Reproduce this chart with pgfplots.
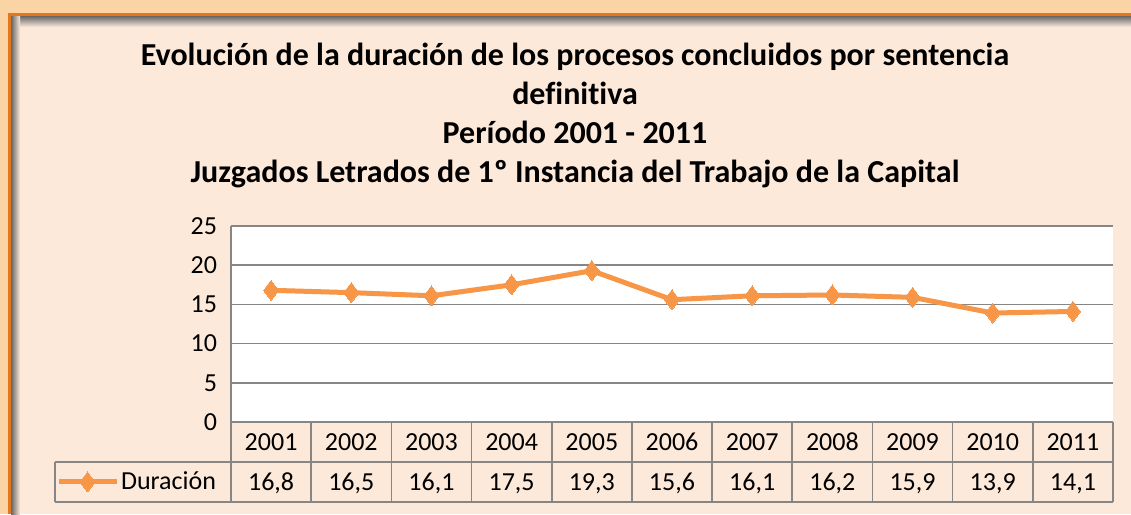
\documentclass[border=0pt]{standalone}
\usepackage{pgfplots}
\pgfplotsset{compat=1.18}
\usepackage{fontspec}
\setmainfont{Carlito}[Ligatures={NoCommon}]

\definecolor{peach}{RGB}{253,233,217}
\definecolor{band}{RGB}{251,212,166}
\definecolor{frameorange}{RGB}{228,118,30}
\definecolor{lineorange}{RGB}{247,150,70}
\definecolor{gridgray}{RGB}{134,134,134}

\begin{document}
\begin{tikzpicture}[x=0.75pt,y=-0.75pt]
% frame and background
\fill[band] (0,0) rectangle (1131,514);
\fill[frameorange] (8,13) rectangle (1131,514);
\fill[peach] (11,16) rectangle (1131,514);
\shade[top color=black!60, bottom color=peach] (11,16) rectangle (1131,27);
\shade[left color=black!60, right color=peach] (11,16) rectangle (20,514);

% title
\tikzset{ttl/.style={font=\fontsize{24}{28}\selectfont\bfseries, anchor=base}}
\node[ttl] at (575,65) {Evolución de la duración de los procesos concluidos por sentencia};
\node[ttl] at (575,104) {definitiva};
\node[ttl] at (575,143) {Período 2001 - 2011};
\node[ttl] at (575,182) {Juzgados Letrados de 1º Instancia del Trabajo de la Capital};

% data table grid
\draw[gridgray, line width=1.2pt] (231,422) -- (1113,422);
\draw[gridgray, line width=1.2pt] (55,462) -- (1113,462);
\draw[gridgray, line width=1.2pt] (55,502) -- (1113,502);
\draw[gridgray, line width=1.2pt] (55,462) -- (55,502);
\foreach \k in {1,...,11} {
  \draw[gridgray, line width=1.2pt] ({231+\k*80.1818},422) -- ({231+\k*80.1818},502);
}
\draw[gridgray, line width=1.2pt] (231,422) -- (231,502);

\begin{axis}[
  at={(173.25pt,-316.5pt)}, anchor=south west,
  scale only axis, width=661.5pt, height=147pt,
  axis background/.style={fill=white},
  xmin=0.5, xmax=11.5, ymin=0, ymax=25,
  ytick={0,5,10,15,20,25},
  xtick={1,...,11},
  xticklabels={2001,2002,2003,2004,2005,2006,2007,2008,2009,2010,2011},
  extra x ticks={1,...,11},
  extra x tick labels={{16,8},{16,5},{16,1},{17,5},{19,3},{15,6},{16,1},{16,2},{15,9},{13,9},{14,1}},
  extra x tick style={grid=none, xticklabel style={yshift=-30pt}},
  major tick length=0pt,
  ymajorgrids, grid style={gridgray, line width=1.2pt},
  axis x line*=bottom, axis y line*=left,
  x axis line style={draw=none},
  y axis line style={gridgray, line width=1.2pt, -},
  /pgf/number format/assume math mode=true,
  ticklabel style={font=\fontsize{19.5}{23}\selectfont},
  xticklabel style={anchor=base, yshift=-21.5pt},
  yticklabel style={xshift=-7pt},
  clip=false,
  legend style={at={(-0.1984,-0.306)}, anchor=west, draw=none, fill=none,
    font=\fontsize{19.5}{23}\selectfont, inner sep=0pt, outer sep=0pt,
    nodes={inner sep=1.5pt}},
  legend image code/.code={\draw[mark repeat=2,mark phase=2,#1] plot coordinates {(0pt,0pt) (21.75pt,0pt) (43.5pt,0pt)};},
]
\addplot[lineorange, line width=3.75pt, mark=diamond*, mark size=7.5pt,
  mark options={fill=lineorange, draw=lineorange, line width=0pt}]
  coordinates {(1,16.8) (2,16.5) (3,16.1) (4,17.5) (5,19.3) (6,15.6) (7,16.1) (8,16.2) (9,15.9) (10,13.9) (11,14.1)};
\addlegendentry{Duración}
\end{axis}
\pgfresetboundingbox
\useasboundingbox (0,0) rectangle (1131,514);
\end{tikzpicture}
\end{document}
